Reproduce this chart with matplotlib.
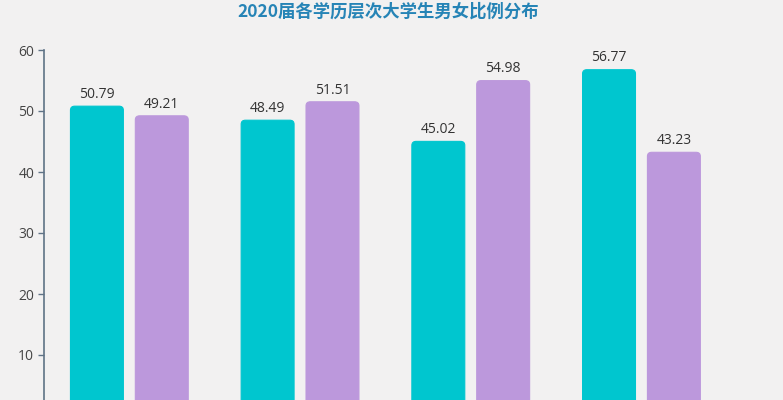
import matplotlib
matplotlib.use("Agg")
import matplotlib.pyplot as plt
from matplotlib.patches import FancyBboxPatch
import numpy as np

plt.rcParams['font.family'] = ['Noto Sans CJK SC', 'DejaVu Sans']

categories = ["专科", "本科", "硕士", "博士"]
male = [50.79, 48.49, 45.02, 56.77]
female = [49.21, 51.51, 54.98, 43.23]
yticks = [10, 20, 30, 40, 50, 60]
title = "2020届各学历层次大学生男女比例分布"

bg = "#f2f1f1"
c_male = "#00c6cf"
c_female = "#bc98dc"
axis_col = "#5f7386"
num_font = ['Open Sans', 'DejaVu Sans']

fig = plt.figure(figsize=(7.83, 4.0), dpi=100, facecolor=bg)
ax = fig.add_axes([44/783, 0.0, 4*170.7/783, 1 - 50/400])
ax.set_facecolor(bg)

x = np.arange(len(categories))
w = 0.31
off = 0.19
b1 = ax.bar(x - off, male, width=w, color=c_male)
b2 = ax.bar(x + off, female, width=w, color=c_female)

# rounded corners
r = 0.025
aspect = (4/6.1) / r
for bars, col in ((b1, c_male), (b2, c_female)):
    for p in bars:
        bx, by = p.get_x(), p.get_y()
        bw, bh = p.get_width(), p.get_height()
        p.set_visible(False)
        fp = FancyBboxPatch((bx, by), bw, bh,
                            boxstyle=f"round,pad=0,rounding_size={r}",
                            mutation_aspect=aspect,
                            facecolor=col, edgecolor=col, linewidth=0.8)
        ax.add_patch(fp)

for xi, v in zip(x - off, male):
    ax.text(xi, v + 0.7, f"{v:.2f}", ha='center', va='bottom', fontsize=10,
            color="#333333", family=num_font)
for xi, v in zip(x + off, female):
    ax.text(xi, v + 0.7, f"{v:.2f}", ha='center', va='bottom', fontsize=10,
            color="#333333", family=num_font)

ax.set_xlim(-0.5, 3.5)
ax.set_ylim(16/6.1, 60)
ax.set_yticks(yticks)
ax.set_yticklabels([str(t) for t in yticks], family=num_font)
ax.set_xticks([])
for s in ("top", "right", "bottom"):
    ax.spines[s].set_visible(False)
ax.spines['left'].set_color(axis_col)
ax.spines['left'].set_linewidth(1.2)
ax.spines['left'].set_bounds(16/6.1, 60)
ax.tick_params(axis='y', colors=axis_col, length=4, width=1, pad=3, labelsize=10, labelcolor="#444444")

fig.text(388.5/783, 1 - 12/400, title, ha='center', va='center',
         fontsize=12.5, fontweight='bold', color="#2684b6")

fig.savefig("out.png", dpi=100, facecolor=bg)
